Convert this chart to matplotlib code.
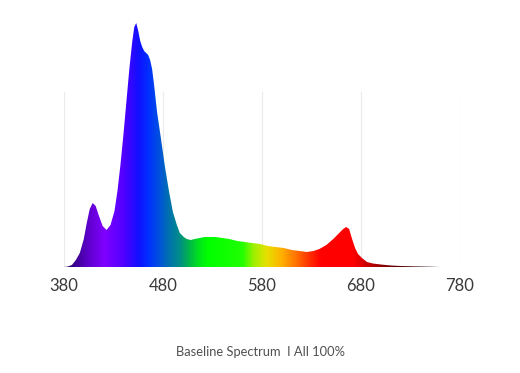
import numpy as np
import matplotlib
matplotlib.use("Agg")
import matplotlib.pyplot as plt
from matplotlib.colors import LinearSegmentedColormap
from matplotlib.path import Path
from matplotlib.patches import PathPatch

# Spectrum data (wavelength nm, relative intensity)
wavelength = [380, 384, 388, 392, 396, 400, 403, 406, 409, 412, 415, 419, 423,
              427, 431, 434, 437, 440, 443, 446, 449, 451, 453, 455, 457, 459,
              461, 463, 465, 467, 469, 471, 474, 478, 482, 486, 490, 494, 497,
              501, 504, 508, 512, 517, 522, 527, 533, 540, 547, 555, 563, 570,
              578, 586, 594, 602, 610, 618, 625, 632, 638, 645, 652, 658, 662,
              665, 668, 671, 674, 677, 681, 686, 692, 700, 710, 720, 735, 750, 760]
intensity = [0, 0.5, 2, 7, 14, 28, 44, 58, 64, 61, 52, 41, 37,
             42, 56, 76, 102, 132, 165, 198, 226, 240, 244, 236, 226, 220,
             216, 214, 212, 207, 198, 182, 155, 128, 100, 76, 55, 42, 34,
             30, 28, 27, 28, 29, 30, 30, 30, 29, 28, 26, 25, 24,
             23, 21, 20, 19, 17, 16, 15, 16, 18, 22, 28, 34, 38,
             40, 38, 28, 19, 13, 9, 5, 3.5, 2.5, 1.5, 1, 0.6, 0.3, 0]

tick_values = [380, 480, 580, 680, 780]
title_text = "Baseline Spectrum  I All 100%"

color_stops = [
    (380, "#1a0040"), (390, "#3a0090"), (405, "#6000d0"), (420, "#8000ff"),
    (440, "#5000ff"), (455, "#1010ff"), (465, "#0030ff"), (475, "#0050e0"),
    (485, "#0070b0"), (495, "#008890"), (505, "#00b050"), (515, "#00e020"),
    (525, "#00ff00"), (560, "#20ff00"), (572, "#a0f000"), (585, "#e8e000"),
    (600, "#ffb000"), (615, "#ff7000"), (628, "#ff3000"), (640, "#ff0000"),
    (672, "#ff0000"), (690, "#c00000"), (710, "#700000"), (740, "#300000"),
    (780, "#100000"),
]

W, H = 520, 373
fig = plt.figure(figsize=(W / 100, H / 100), dpi=100)
ax = fig.add_axes([64 / W, 1 - 267 / H, (460 - 64) / W, (267 - 20) / H])

x0, x1 = 380, 780
ymax = 247
ax.set_xlim(x0, x1)
ax.set_ylim(0, ymax)

cmap = LinearSegmentedColormap.from_list(
    "spec", [((w - x0) / (x1 - x0), c) for w, c in color_stops])
grad = np.linspace(0, 1, 800)[None, :]
im = ax.imshow(grad, extent=[x0, x1, 0, ymax], aspect="auto", cmap=cmap,
               origin="lower", zorder=2, interpolation="bilinear")

verts = [(wavelength[0], 0)] + list(zip(wavelength, intensity)) + [(wavelength[-1], 0), (wavelength[0], 0)]
codes = [Path.MOVETO] + [Path.LINETO] * (len(verts) - 2) + [Path.CLOSEPOLY]
patch = PathPatch(Path(verts, codes), facecolor="none", edgecolor="none")
ax.add_patch(patch)
im.set_clip_path(patch)

for t in tick_values:
    ax.axvline(t, ymin=0, ymax=0.71, color="#ebebeb", lw=0.8, zorder=0)

for s in ax.spines.values():
    s.set_visible(False)
ax.set_yticks([])
ax.set_xticks(tick_values)
ax.set_xticklabels([str(t) for t in tick_values], family="Lato", fontsize=12,
                   color="#3a3a3a")
ax.tick_params(axis="x", length=0, pad=8)

fig.text(0.5, 1 - 352 / H, title_text, ha="center", va="center",
         family="Lato", fontsize=9.3, color="#505050")

fig.savefig("out.png", dpi=100, facecolor="white")
